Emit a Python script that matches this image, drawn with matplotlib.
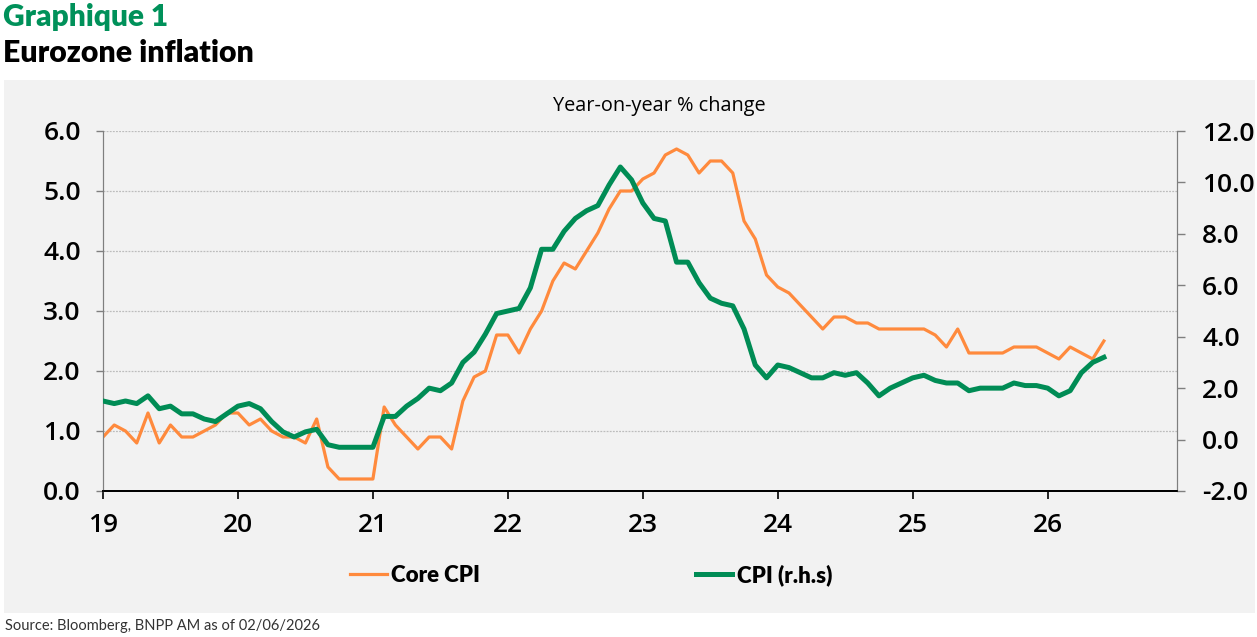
import numpy as np
import matplotlib
matplotlib.use('Agg')
import matplotlib.pyplot as plt
from matplotlib.patches import Rectangle

# monthly values, Jan 2019 position to Jun 2026 position (90 points)
core_cpi = [0.9, 1.1, 1.0, 0.8, 1.3, 0.8, 1.1, 0.9, 0.9, 1.0, 1.1, 1.3,
            1.3, 1.1, 1.2, 1.0, 0.9, 0.9, 0.8, 1.2, 0.4, 0.2, 0.2, 0.2,
            0.2, 1.4, 1.1, 0.9, 0.7, 0.9, 0.9, 0.7, 1.5, 1.9, 2.0, 2.6,
            2.6, 2.3, 2.7, 3.0, 3.5, 3.8, 3.7, 4.0, 4.3, 4.7, 5.0, 5.0,
            5.2, 5.3, 5.6, 5.7, 5.6, 5.3, 5.5, 5.5, 5.3, 4.5, 4.2, 3.6,
            3.4, 3.3, 3.1, 2.9, 2.7, 2.9, 2.9, 2.8, 2.8, 2.7, 2.7, 2.7,
            2.7, 2.7, 2.6, 2.4, 2.7, 2.3, 2.3, 2.3, 2.3, 2.4, 2.4, 2.4,
            2.3, 2.2, 2.4, 2.3, 2.2, 2.5]
cpi = [1.5, 1.4, 1.5, 1.4, 1.7, 1.2, 1.3, 1.0, 1.0, 0.8, 0.7, 1.0,
       1.3, 1.4, 1.2, 0.7, 0.3, 0.1, 0.3, 0.4, -0.2, -0.3, -0.3, -0.3,
       -0.3, 0.9, 0.9, 1.3, 1.6, 2.0, 1.9, 2.2, 3.0, 3.4, 4.1, 4.9,
       5.0, 5.1, 5.9, 7.4, 7.4, 8.1, 8.6, 8.9, 9.1, 9.9, 10.6, 10.1,
       9.2, 8.6, 8.5, 6.9, 6.9, 6.1, 5.5, 5.3, 5.2, 4.3, 2.9, 2.4,
       2.9, 2.8, 2.6, 2.4, 2.4, 2.6, 2.5, 2.6, 2.2, 1.7, 2.0, 2.2,
       2.4, 2.5, 2.3, 2.2, 2.2, 1.9, 2.0, 2.0, 2.0, 2.2, 2.1, 2.1,
       2.0, 1.7, 1.9, 2.6, 3.0, 3.2]
year_labels = ['19', '20', '21', '22', '23', '24', '25', '26']
left_ticks = [0.0, 1.0, 2.0, 3.0, 4.0, 5.0, 6.0]
right_ticks = [-2.0, 0.0, 2.0, 4.0, 6.0, 8.0, 10.0, 12.0]

ORANGE = '#FF8A3D'
GREEN = '#008C55'
PANEL = '#F2F2F2'

fig = plt.figure(figsize=(12.57, 6.37), dpi=100)
panel = Rectangle((4 / 1257, 1 - 613 / 637), 1251 / 1257, 533 / 637,
                  transform=fig.transFigure, facecolor=PANEL,
                  edgecolor='none', zorder=-10)
fig.add_artist(panel)

ax = fig.add_axes([103 / 1257, 1 - 491 / 637, 1074 / 1257, 360 / 637])
ax.set_facecolor('none')
ax2 = ax.twinx()
ax2.set_facecolor('none')

months = np.arange(len(core_cpi))
l1, = ax.plot(months, core_cpi, color=ORANGE, lw=2.3, zorder=3)
l2, = ax2.plot(months, cpi, color=GREEN, lw=3.6, zorder=3)

ax.set_xlim(0, 95.5)
ax.set_ylim(0, 6)
ax2.set_ylim(-2, 12)

ax.set_xticks(np.arange(0, 96, 12))
ax.set_xticklabels(year_labels)
ax.set_yticks(left_ticks)
ax.set_yticklabels(['%.1f' % v for v in left_ticks])
ax2.set_yticks(right_ticks)
ax2.set_yticklabels(['%.1f' % v for v in right_ticks])

for v in left_ticks[1:]:
    ax.axhline(v, color='#BDBDBD', lw=0.9, ls=(0, (1.5, 1)), zorder=1)

font = 'Open Sans'
ax.tick_params(axis='x', direction='out', length=6, width=1.2, color='black',
               pad=10, labelsize=19)
ax.tick_params(axis='y', direction='out', length=5, width=1, color='#7F7F7F',
               pad=11, labelsize=19)
ax2.tick_params(axis='y', direction='out', length=6, width=1, color='#7F7F7F',
                pad=12, labelsize=19)
for lab in ax.get_xticklabels() + ax.get_yticklabels() + ax2.get_yticklabels():
    lab.set_fontfamily(font)
    lab.set_fontweight('semibold')

for a in (ax, ax2):
    a.spines['top'].set_visible(False)
    a.spines['left'].set_color('#7F7F7F')
    a.spines['right'].set_color('#7F7F7F')
    a.spines['bottom'].set_color('black')
    a.spines['bottom'].set_linewidth(1.3)

fig.text(659 / 1257, 1 - 106 / 637, 'Year-on-year % change', ha='center',
         va='center', fontsize=14.3, family=font)

fig.text(3 / 1257, 1 - 17 / 637, 'Graphique 1', ha='left', va='center',
         fontsize=21.5, fontweight='heavy', family='Lato', color='#00915A')
fig.text(3 / 1257, 1 - 53 / 637, 'Eurozone inflation', ha='left', va='center',
         fontsize=21.8, fontweight='heavy', family='Lato', color='black')
fig.text(5 / 1257, 1 - 626 / 637, 'Source: Bloomberg, BNPP AM as of 02/06/2026',
         ha='left', va='center', fontsize=10.5, family='Lato', color='#333333')

leg = fig.legend([l1, l2], ['Core CPI', 'CPI (r.h.s)'], ncol=2, frameon=False,
                 loc='center left', bbox_to_anchor=(350 / 1257, 1 - 575 / 637),
                 borderpad=0, borderaxespad=0, handlelength=1.65,
                 handletextpad=0.2, columnspacing=9.7,
                 prop={'family': 'Lato', 'weight': 'heavy', 'size': 16})
leg.get_lines()[1].set_linewidth(3.6)

fig.savefig('out.png', dpi=100)
